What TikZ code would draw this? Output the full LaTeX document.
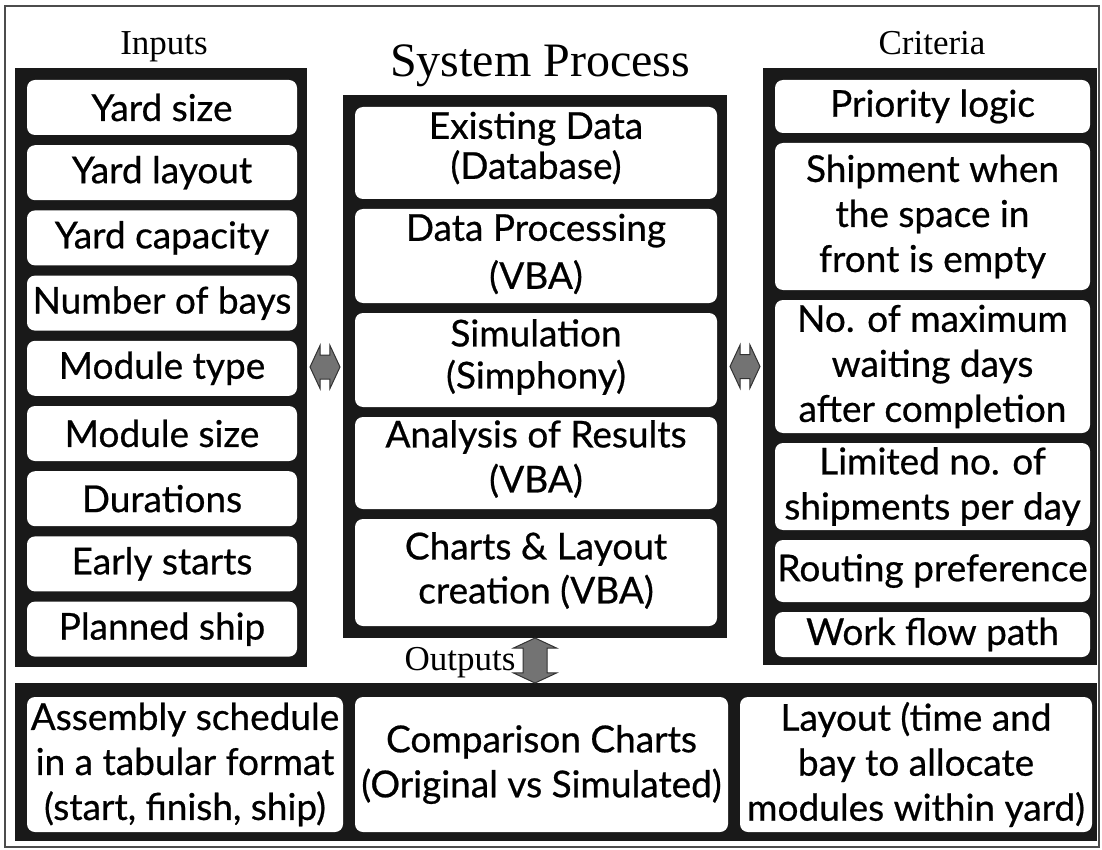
\documentclass[tikz,border=0pt]{standalone}
\usepackage{fontspec}
\setmainfont{Liberation Serif}
\newfontfamily\cellfont{Lato}[FakeBold=0.6]
\usetikzlibrary{shapes.arrows,calc}

\tikzset{
  frame/.style={draw=black!70, line width=1.2pt},
  panel/.style={fill=black!90, draw=none, inner sep=0pt, rectangle},
  cell/.style={fill=white, draw=none, rounded corners=8pt, inner sep=0pt,
    align=center, font=\cellfont\fontsize{37}{45}\selectfont},
  tight/.style={font=\cellfont\fontsize{37}{40}\selectfont},
  heading/.style={font=\fontsize{35}{40}\selectfont, inner sep=0pt},
  link/.style={double arrow, draw=black!80, line width=1pt, fill=black!55,
    inner xsep=0pt, inner ysep=11.5pt, double arrow head extend=9.5pt,
    double arrow tip angle=130, minimum height=30pt}
}

\begin{document}
\begin{tikzpicture}[x=1pt,y=-1pt]
\useasboundingbox (0,0) rectangle (1102,850);
\draw[frame] (5,6) rectangle (1099,847);

% dark panels
\node[panel, minimum width=292pt, minimum height=599pt] (inp) at (161,367.5) {};
\node[panel, minimum width=384pt, minimum height=543pt] (sys) at (535,366.5) {};
\node[panel, minimum width=334pt, minimum height=597pt] (cri) at (930,366.5) {};
\node[panel, minimum width=1082pt, minimum height=158pt] (out) at (556,762) {};

% headings
\node[heading, anchor=base] (hin) at (164,55) {Inputs};
\node[heading, anchor=base] (hcr) at (932,55) {Criteria};
\node[heading, anchor=base, font=\fontsize{48}{52}\selectfont] (hsy) at (540,77) {System Process};
\node[heading, anchor=base] (hout) at (460,670) {Outputs};

% inputs column
\foreach \t [count=\i from 0] in {Yard size, Yard layout, Yard capacity,
    Number of bays, Module type, Module size, Durations, Early starts, Planned ship}
  \node[cell, minimum width=270pt, minimum height=55pt] (in\i) at (162,{107.5+65.2*\i}) {\t};

% system process column: boxes, then their text set a little high
\node[cell, tight, minimum width=362pt, minimum height=92pt] (s1) at (536,153) {};
\node[cell, tight, minimum width=362pt, minimum height=94pt] (s2) at (536,256) {};
\node[cell, tight, minimum width=362pt, minimum height=94pt] (s3) at (536,360) {};
\node[cell, tight, minimum width=362pt, minimum height=92pt] (s4) at (536,463) {};
\node[cell, tight, minimum width=362pt, minimum height=107pt] (s5) at (536,572.5) {};
\node[cell, tight, fill=none] (t1) at ($(s1)+(0,-5)$) {Existing Data\\(Database)};
\node[cell, tight, fill=none] (t2) at ($(s2)+(0,-2)$) {Data Processing\\[8pt](VBA)};
\node[cell, tight, fill=none] (t3) at ($(s3)+(0,-3)$) {Simulation\\[2pt](Simphony)};
\node[cell, tight, fill=none] (t4) at ($(s4)+(0,-4)$) {Analysis of Results\\[5pt](VBA)};
\node[cell, tight, fill=none] (t5) at ($(s5)+(0,-2)$) {Charts \& Layout\\[4pt]creation (VBA)};

% criteria column
\node[cell, minimum width=315pt, minimum height=53pt] (c1) at (932.5,106.5) {Priority logic};
\node[cell, minimum width=315pt, minimum height=147pt] (c2) at (932.5,216.5) {Shipment when\\the space in\\front is empty};
\node[cell, minimum width=315pt, minimum height=133pt] (c3) at (932.5,366.5) {No. of maximum\\waiting days\\after completion};
\node[cell, minimum width=315pt, minimum height=87pt] (c4) at (932.5,486.5) {Limited no. of\\shipments per day};
\node[cell, minimum width=315pt, minimum height=62pt] (c5) at (932.5,571) {Routing preference};
\node[cell, minimum width=315pt, minimum height=45pt] (c6) at (932.5,634.5) {Work flow path};

% outputs row
\node[cell, minimum width=316pt, minimum height=135pt] (o1) at (185,764.5) {Assembly schedule\\in a tabular format\\(start, finish, ship)};
\node[cell, minimum width=373pt, minimum height=135pt] (o2) at (541.5,764.5) {Comparison Charts\\(Original vs Simulated)};
\node[cell, minimum width=352pt, minimum height=135pt] (o3) at (916,764.5) {Layout (time and\\bay to allocate\\modules within yard)};

% exchanges between the panels
\node[link] (a1) at ($(inp.east)!0.5!(sys.west)$) {};
\node[link] (a2) at ($(sys.east)!0.5!(cri.west)$) {};
\node[link, rotate=90, minimum height=45pt] (a3) at ($(sys.south)!0.5!(sys.south|-out.north)$) {};
\end{tikzpicture}
\end{document}
